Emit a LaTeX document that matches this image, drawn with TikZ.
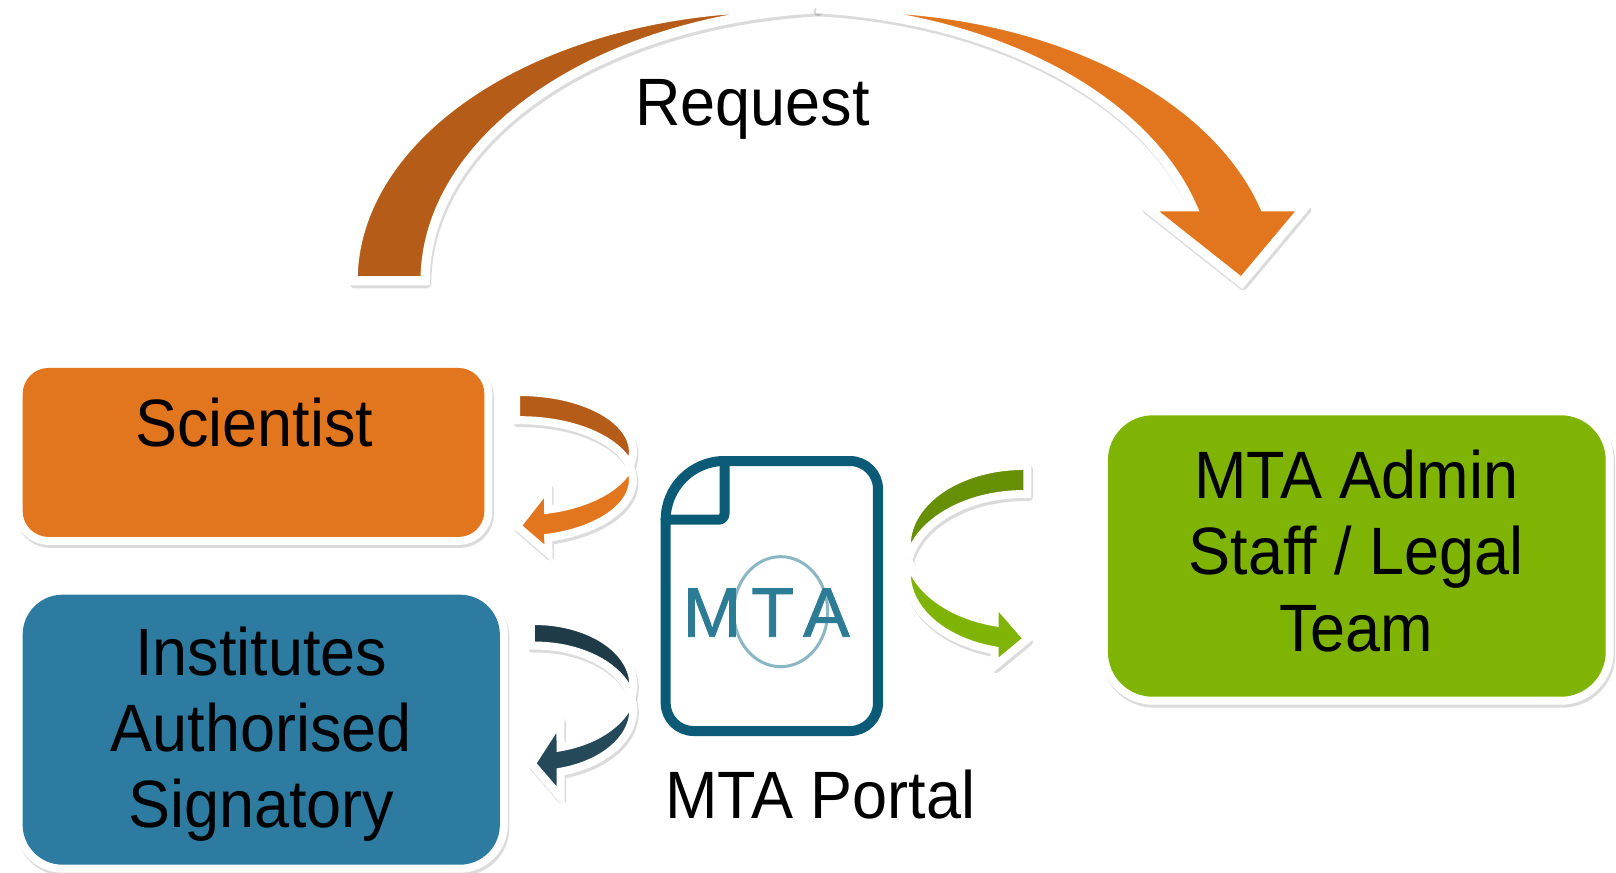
\documentclass[tikz,border=0pt]{standalone}
\usepackage{fontspec}
\setmainfont{Liberation Sans}
\newfontfamily\lab[FakeStretch=0.94]{Liberation Sans}
\newfontfamily\logofont[FakeBold=1.2]{Liberation Sans}
\definecolor{orangeA}{HTML}{E2761F}
\definecolor{orangeD}{HTML}{B55C19}
\definecolor{blueB}{HTML}{2D7BA0}
\definecolor{greenA}{HTML}{7FB404}
\definecolor{greenD}{HTML}{668F03}
\definecolor{tealD}{HTML}{1F3B47}
\definecolor{tealL}{HTML}{26495A}
\definecolor{docteal}{HTML}{0B5A76}
\definecolor{logoteal}{HTML}{2D7C96}
\begin{document}
\begin{tikzpicture}[x=1.0306pt, y=-1.0306pt,
  shadowed/.style={preaction={draw=black, fill=black, opacity=0.14, line width=#1, line join=round, transform canvas={shift={(1.5pt,-3pt)}}}},
  bandS/.style={shadowed=8pt, fill=#1, postaction={draw=white, line width=8pt, line join=miter, miter limit=4}},
  bandB/.style={shadowed=9.3pt, fill=#1, postaction={draw=white, line width=9.3pt, line join=miter, miter limit=4}},
  boxstyle/.style={rectangle, inner sep=0pt, shadowed=16pt, preaction={draw=white, line width=16pt}, fill=#1},
  lbl/.style={font=\lab\fontsize{67}{76.3}\selectfont, inner sep=0pt, text=black},
  logo/.style={font=\logofont\fontsize{70}{70}\selectfont, inner sep=0pt, text=logoteal},
  docline/.style={draw=docteal, line width=10pt, line cap=round, line join=round}
]
\fill[white] (0,0) rectangle (1568,846.1);
\useasboundingbox (0,0) rectangle (1568,846.1);

% ---- big "Request" arc ----
\path[bandB=orangeD] plot[domain=180:85.16, samples=90] ({757.5+415*cos(\x)},{272.5-265*sin(\x)})
  -- plot[domain=94.84:180, samples=90] ({827.5+415*cos(\x)},{272.5-265*sin(\x)}) -- cycle;
\path[bandB=orangeA] plot[domain=94.84:15.77, samples=90] ({827.5+415*cos(\x)},{272.5-265*sin(\x)})
  -- (1266.4,200.5) -- (1204.7,274.2) -- (1111.6,200.5)
  -- plot[domain=15.77:85.16, samples=90] ({757.5+415*cos(\x)},{272.5-265*sin(\x)}) -- cycle;
\node[lbl, anchor=base] (req) at (730,121.3) {Request};

% ---- boxes ----
\node[boxstyle=orangeA, rounded corners=26pt, minimum width=461.7pt, minimum height=169pt] (sci) at (246,439) {};
\node[boxstyle=blueB, rounded corners=40pt, minimum width=477.2pt, minimum height=270pt] (inst) at (253.5,708) {};
\node[boxstyle=greenA, rounded corners=45pt, minimum width=497.8pt, minimum height=281.4pt] (admin) at (1316.5,539.5) {};

\node[lbl, anchor=base] (scitext) at (246.5,433.4) {Scientist};
\node[lbl, anchor=north, align=center] (insttext) at (253.3,606.4) {\rule{0pt}{50pt}Institutes\\Authorised\\Signatory};
\node[lbl, anchor=north, align=center] (admintext) at (1316,435) {\rule{0pt}{50pt}MTA Admin\\Staff / Legal\\Team};

% ---- small orange arrow ----
\path[bandS=orangeD] plot[domain=92.04:-13.62, samples=50] ({504.6+109.5*cos(\x)},{438.35-57.95*sin(\x)})
  -- plot[domain=13.62:92.04, samples=50] ({504.6+109.5*cos(\x)},{465.65-57.95*sin(\x)}) -- cycle;
\path[bandS=orangeA] plot[domain=13.62:-75.56, samples=50] ({504.6+109.5*cos(\x)},{465.65-57.95*sin(\x)})
  -- (532.3,537) -- (501.6,510.5) -- (531.9,471.7)
  -- plot[domain=-75.56:-13.62, samples=50] ({504.6+109.5*cos(\x)},{438.35-57.95*sin(\x)}) -- cycle;

% ---- small teal arrow ----
\path[bandS=tealD] plot[domain=92.34:-11.01, samples=50] ({519+95.5*cos(\x)},{664.9-62.3*sin(\x)})
  -- plot[domain=11.01:92.34, samples=50] ({519+95.5*cos(\x)},{688.7-62.3*sin(\x)}) -- cycle;
\path[bandS=tealL] plot[domain=11.01:-74.89, samples=50] ({519+95.5*cos(\x)},{688.7-62.3*sin(\x)})
  -- (543.9,773.5) -- (515.9,741) -- (543.7,697.9)
  -- plot[domain=-74.89:-11.01, samples=50] ({519+95.5*cos(\x)},{664.9-62.3*sin(\x)}) -- cycle;

% ---- small green arrow ----
\path[bandS=greenD] plot[domain=88.03:190.21, samples=50] ({993+113.2*cos(\x)},{529.1-77*sin(\x)})
  -- plot[domain=169.79:88.03, samples=50] ({993+113.2*cos(\x)},{556.4-77*sin(\x)}) -- cycle;
\path[bandS=greenA] plot[domain=169.79:255.73, samples=50] ({993+113.2*cos(\x)},{556.4-77*sin(\x)})
  -- (965.1,646.2) -- (997,619.8) -- (965.1,583.2)
  -- plot[domain=255.73:190.21, samples=50] ({993+113.2*cos(\x)},{529.1-77*sin(\x)}) -- cycle;

% ---- MTA document icon ----
\draw[docline, rounded corners=28pt] (645.9,504.3) -- (645.9,709.3) -- (851.9,709.3) -- (851.9,447.3) -- (703,447.3);
\draw[docline] (645.9,504.3) .. controls (645.9,472.8) and (671.5,447.3) .. (703,447.3);
\draw[docline, rounded corners=6pt] (703,447.3) -- (703,504.3) -- (645.9,504.3);
\draw[logoteal, line width=3pt, opacity=0.55] (757.5,593.5) ellipse [x radius=47pt, y radius=55pt];
\node[logo, anchor=base] (lm) at (690.9,617.8) {M};
\node[logo, anchor=base] (lt) at (749.6,617.8) {T};
\node[logo, anchor=base] (la) at (801.9,617.8) {A};
\node[lbl, anchor=base] (portal) at (796,793.7) {MTA Portal};
\end{tikzpicture}
\end{document}
